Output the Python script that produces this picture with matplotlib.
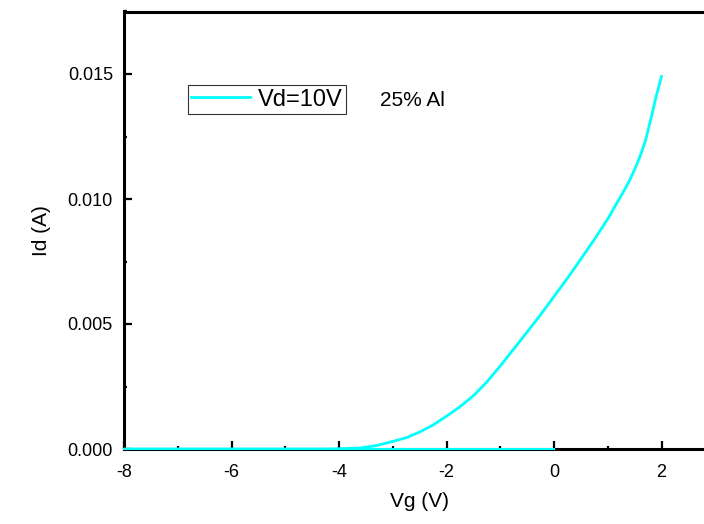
import matplotlib
matplotlib.use("Agg")
import matplotlib.pyplot as plt
from matplotlib.ticker import MultipleLocator, FormatStrFormatter

plt.rcParams['font.family'] = ['Liberation Sans', 'DejaVu Sans']
plt.rcParams['axes.unicode_minus'] = False

# Data
vg = [-8.0, -6.0, -5.0, -4.5, -4.3, -4.0, -3.6, -3.3, -3.0, -2.75, -2.5, -2.25,
      -2.0, -1.75, -1.5, -1.25, -1.0, -0.75, -0.5, -0.25, 0.0, 0.25, 0.5, 0.75,
      1.0, 1.2, 1.3, 1.4, 1.5, 1.6, 1.7, 1.8, 1.9, 2.0]
id_a = [0.0, 0.0, 0.0, 0.0, 0.0, 0.00001, 0.00004, 0.00014, 0.0003, 0.00045,
        0.00068, 0.00096, 0.00131, 0.00169, 0.00213, 0.00268, 0.00332, 0.00400,
        0.00468, 0.00537, 0.00610, 0.00683, 0.00760, 0.00838, 0.00920, 0.00995,
        0.01032, 0.01072, 0.01118, 0.01170, 0.01232, 0.01318, 0.01410, 0.0149]
vg_flat = [-8.0, 0.0]
id_flat = [0.0, 0.0]

series_label = "Vd=10V"
note = "25% Al"

fig = plt.figure(figsize=(7.04, 5.24), dpi=100)
ax = fig.add_axes([124/704, 1-449/524, (715.25-124)/704, (449-11.5)/524])

ax.plot(vg, id_a, color='#00FFFF', lw=2.0, label=series_label, zorder=3)
ax.plot(vg_flat, id_flat, color='#00FFFF', lw=1.5, zorder=4, clip_on=False)

ax.set_xlim(-8, 3)
ax.set_ylim(0, 0.0175)

ax.xaxis.set_major_locator(MultipleLocator(2))
ax.xaxis.set_minor_locator(MultipleLocator(1))
ax.yaxis.set_major_locator(MultipleLocator(0.005))
ax.yaxis.set_minor_locator(MultipleLocator(0.0025))
ax.yaxis.set_major_formatter(FormatStrFormatter('%.3f'))

ax.tick_params(which='both', direction='in', top=False, right=False, labelsize=13)
ax.tick_params(axis='x', which='both', pad=10.5)
ax.tick_params(axis='y', which='both', pad=8)
ax.tick_params(which='major', length=5.5, width=1.6)
ax.tick_params(which='minor', length=2.5, width=1.6)

for s in ['left', 'top', 'bottom']:
    ax.spines[s].set_linewidth(2.2)
ax.spines['right'].set_visible(False)

ax.set_xlabel('Vg (V)', fontsize=15, labelpad=8)
ax.set_ylabel('Id (A)', fontsize=15, labelpad=12)

leg = ax.legend(loc='upper left', bbox_to_anchor=(0.108, 0.832), borderaxespad=0,
                fontsize=17, frameon=True, fancybox=False, handlelength=2.5,
                handletextpad=0.3, borderpad=0.15)
leg.get_frame().set_edgecolor('black')
leg.get_frame().set_linewidth(0.8)

ax.text((380-124)/(715.25-124), (449-100)/437.5, note, transform=ax.transAxes,
        fontsize=15, va='center', ha='left')

fig.savefig('out.png', dpi=100)
